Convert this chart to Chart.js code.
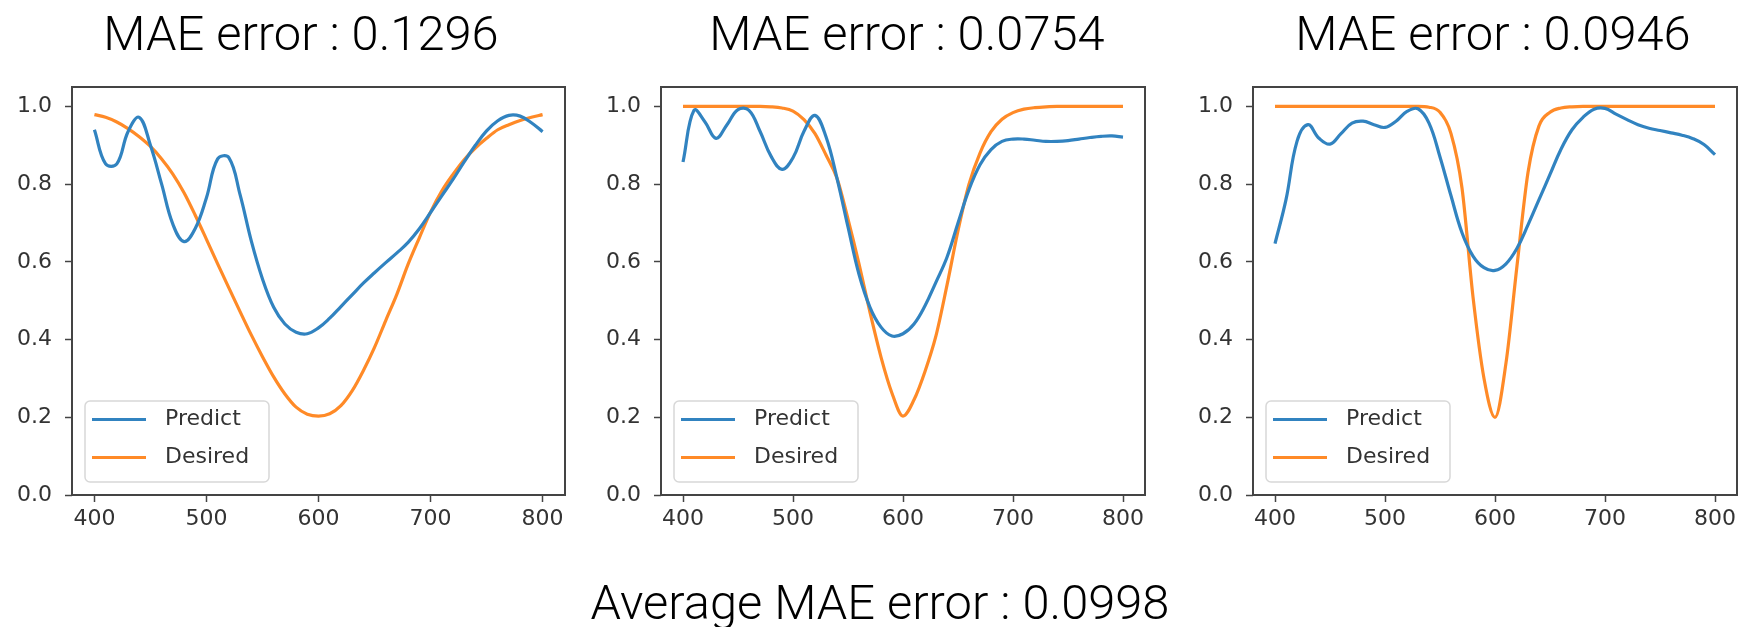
<!DOCTYPE html>
<html>
<head>
<meta charset="utf-8">
<script src="https://cdn.jsdelivr.net/npm/chart.js@4.4.0/dist/chart.umd.min.js"></script>
<style>
html,body{margin:0;padding:0;background:#fff;width:1750px;height:627px;overflow:hidden;position:relative}
.pane{position:absolute}
.title{position:absolute;font-family:"Roboto","Liberation Sans",Arial,sans-serif;font-weight:300;font-size:48.8px;line-height:49px;color:#000;white-space:nowrap;transform:translateX(-50%)}
</style>
</head>
<body>
<div class="title" id="t0" style="left:301px;top:9px"></div>
<div class="title" id="t1" style="left:907px;top:9px"></div>
<div class="title" id="t2" style="left:1493px;top:9px"></div>
<div class="title" id="tavg" style="left:880px;top:578px"></div>
<div class="pane" id="p0"><canvas id="c0"></canvas></div>
<div class="pane" id="p1"><canvas id="c1"></canvas></div>
<div class="pane" id="p2"><canvas id="c2"></canvas></div>
<script>
// ---------------- data ----------------
const wavelengths = [400,410,420,430,440,450,460,470,480,490,500,510,520,530,540,550,560,570,580,590,600,610,620,630,640,650,660,670,680,690,700,710,720,730,740,750,760,770,780,790,800];
const xTicks = [400,500,600,700,800];
const yTicks = [0,0.2,0.4,0.6,0.8,1.0];
const seriesNames = ["Predict","Desired"];
const panelTitles = ["MAE error : 0.1296","MAE error : 0.0754","MAE error : 0.0946"];
const averageTitle = "Average MAE error : 0.0998";

const predict1 = [0.94,0.852,0.852,0.935,0.972,0.90,0.80,0.697,0.652,0.686,0.765,0.865,0.868,0.773,0.654,0.556,0.483,0.44,0.419,0.415,0.43,0.455,0.485,0.515,0.545,0.572,0.598,0.623,0.65,0.685,0.727,0.77,0.812,0.857,0.90,0.937,0.963,0.977,0.975,0.958,0.935];
const desired1 = [0.979,0.972,0.96,0.943,0.922,0.897,0.865,0.826,0.778,0.72,0.658,0.595,0.533,0.472,0.412,0.356,0.304,0.26,0.226,0.208,0.203,0.209,0.23,0.268,0.32,0.38,0.449,0.517,0.594,0.662,0.728,0.782,0.825,0.863,0.893,0.918,0.94,0.953,0.964,0.972,0.979];

const predict2 = [0.857,0.99,0.96,0.918,0.953,0.992,0.99,0.936,0.872,0.838,0.868,0.936,0.977,0.922,0.815,0.69,0.568,0.483,0.432,0.409,0.415,0.44,0.487,0.548,0.612,0.70,0.786,0.85,0.889,0.91,0.916,0.916,0.913,0.91,0.91,0.912,0.916,0.92,0.923,0.924,0.921];
const desired2 = [1.0,1.0,1.0,1.0,1.0,1.0,1.0,1.0,0.999,0.996,0.988,0.966,0.93,0.875,0.815,0.71,0.595,0.47,0.355,0.262,0.203,0.245,0.318,0.41,0.54,0.68,0.80,0.88,0.935,0.967,0.984,0.993,0.997,0.999,1.0,1.0,1.0,1.0,1.0,1.0,1.0];

const predict3 = [0.647,0.76,0.91,0.953,0.918,0.903,0.93,0.957,0.962,0.953,0.946,0.962,0.987,0.994,0.957,0.87,0.77,0.675,0.615,0.585,0.578,0.595,0.635,0.695,0.76,0.825,0.89,0.94,0.972,0.993,0.995,0.98,0.966,0.953,0.944,0.938,0.932,0.926,0.917,0.902,0.876];
const desired3 = [1.0,1.0,1.0,1.0,1.0,1.0,1.0,1.0,1.0,1.0,1.0,1.0,1.0,1.0,0.998,0.985,0.93,0.79,0.51,0.30,0.20,0.34,0.59,0.83,0.95,0.985,0.996,0.999,1.0,1.0,1.0,1.0,1.0,1.0,1.0,1.0,1.0,1.0,1.0,1.0,1.0];

const panelSeries = [[predict1,desired1],[predict2,desired2],[predict3,desired3]];

// ---------------- layout / style ----------------
const seriesColors = ["#3183c0","#ff8a27"];
const seriesCurve = [{cubicInterpolationMode:"default", tension:0.4},{cubicInterpolationMode:"monotone"}];
const panelLayout = [{left:72,width:493},{left:661,width:484},{left:1253,width:484}];
const chartTop = 87, chartBottom = 495;
const yAxisW = 72, xAxisH = 65, padTop = 37, padRight = 30;
const tickFont = {family:"DejaVu Sans", size:22};
const tickColor = "#333";
const frameColor = "#444";

document.getElementById("t0").textContent = panelTitles[0];
document.getElementById("t1").textContent = panelTitles[1];
document.getElementById("t2").textContent = panelTitles[2];
document.getElementById("tavg").textContent = averageTitle;

const framePlugin = {
  id:"frameAndLegend",
  afterDraw(chart){
    const ctx = chart.ctx, a = chart.chartArea;
    ctx.save();
    ctx.strokeStyle = frameColor;
    ctx.lineWidth = 2;
    ctx.strokeRect(a.left, a.top, a.right - a.left, a.bottom - a.top);
    // legend
    const bw = 184, bh = 81;
    const bx = a.left + 13, by = a.bottom - 13 - bh;
    ctx.beginPath();
    if (ctx.roundRect) ctx.roundRect(bx, by, bw, bh, 5); else ctx.rect(bx, by, bw, bh);
    ctx.fillStyle = "rgba(255,255,255,0.85)";
    ctx.fill();
    ctx.strokeStyle = "#d8d8d8";
    ctx.lineWidth = 1.5;
    ctx.stroke();
    chart.data.datasets.forEach((ds, i) => {
      const y = by + 18.5 + i * 38;
      ctx.beginPath();
      ctx.moveTo(bx + 7, y);
      ctx.lineTo(bx + 61, y);
      ctx.strokeStyle = ds.borderColor;
      ctx.lineWidth = 3.2;
      ctx.stroke();
      ctx.fillStyle = tickColor;
      ctx.font = tickFont.size + "px '" + tickFont.family + "'";
      ctx.textBaseline = "middle";
      ctx.textAlign = "left";
      ctx.fillText(ds.label, bx + 80, y);
    });
    ctx.restore();
  }
};

panelLayout.forEach((p, k) => {
  const W = yAxisW + p.width + padRight;
  const H = padTop + (chartBottom - chartTop) + xAxisH;
  const pane = document.getElementById("p" + k);
  pane.style.left = (p.left - yAxisW) + "px";
  pane.style.top = (chartTop - padTop) + "px";
  const cv = document.getElementById("c" + k);
  cv.width = W; cv.height = H;
  cv.style.width = W + "px"; cv.style.height = H + "px";
  new Chart(cv, {
    type: "line",
    data: {
      datasets: panelSeries[k].map((arr, i) => Object.assign({
        label: seriesNames[i],
        data: wavelengths.map((x, j) => ({x: x, y: arr[j]})),
        borderColor: seriesColors[i],
        backgroundColor: seriesColors[i],
        borderWidth: 3.2,
        pointRadius: 0,
        fill: false
      }, seriesCurve[i]))
    },
    options: {
      responsive: false,
      animation: false,
      devicePixelRatio: 1,
      layout: {padding: {top: padTop, right: padRight, left: 0, bottom: 0}},
      plugins: {legend: {display: false}, tooltip: {enabled: false}, title: {display: false}},
      scales: {
        x: {
          type: "linear", min: 380, max: 820,
          afterBuildTicks: s => { s.ticks = xTicks.map(v => ({value: v})); },
          afterFit: s => { s.height = xAxisH; },
          ticks: {font: tickFont, color: tickColor, padding: 4, maxRotation: 0, autoSkip: false, callback: v => String(v)},
          grid: {drawOnChartArea: false, drawTicks: true, tickLength: 7, tickWidth: 1.5, tickColor: frameColor, color: frameColor},
          border: {display: false}
        },
        y: {
          type: "linear", min: 0, max: 1.05,
          afterBuildTicks: s => { s.ticks = yTicks.map(v => ({value: v})); },
          afterFit: s => { s.width = yAxisW; },
          ticks: {font: tickFont, color: tickColor, padding: 13, autoSkip: false, callback: v => Number(v).toFixed(1)},
          grid: {drawOnChartArea: false, drawTicks: true, tickLength: 7, tickWidth: 1.5, tickColor: frameColor, color: frameColor},
          border: {display: false}
        }
      }
    },
    plugins: [framePlugin]
  });
});
</script>
</body>
</html>
